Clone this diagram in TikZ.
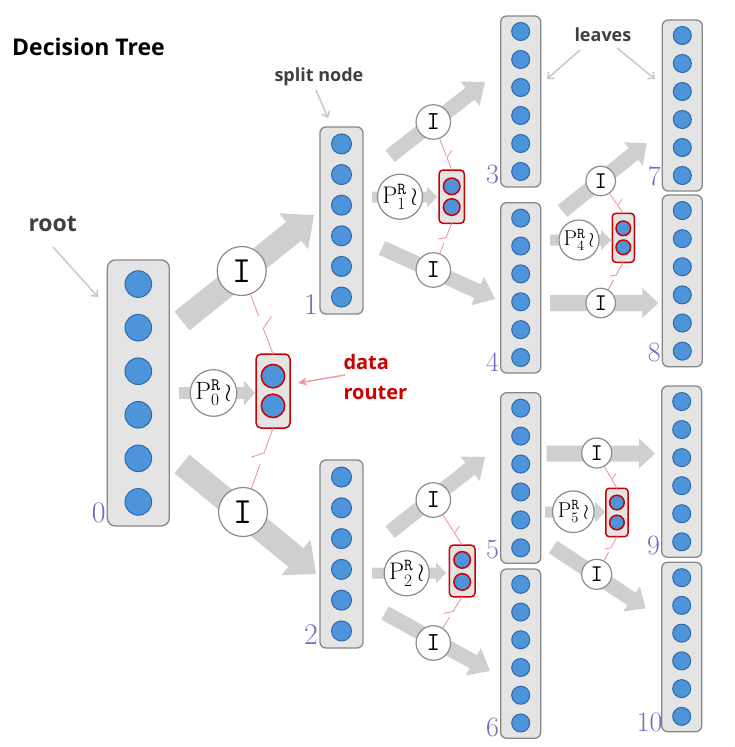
\documentclass[tikz,border=0pt]{standalone}
\usepackage{fontspec}
\newfontfamily\labfont{Open Sans}
\usetikzlibrary{calc,arrows.meta}

\definecolor{boxfill}{RGB}{228,228,228}
\definecolor{boxdraw}{RGB}{135,135,135}
\definecolor{cblue}{RGB}{77,148,219}
\definecolor{cbluedark}{RGB}{46,104,166}
\definecolor{rred}{RGB}{204,0,0}
\definecolor{agray}{RGB}{207,207,207}
\definecolor{lgray}{RGB}{200,200,200}
\definecolor{pinkc}{RGB}{242,150,158}
\definecolor{numcol}{RGB}{118,104,196}
\definecolor{txtgray}{RGB}{64,64,64}
\definecolor{circdraw}{RGB}{140,140,140}

\tikzset{
  fbox/.style={rectangle, draw=boxdraw, fill=boxfill, line width=1.3pt, inner sep=0pt, outer sep=0pt},
  fcirc/.style={circle, draw=cbluedark, fill=cblue, line width=1pt, inner sep=0pt},
  rbox/.style={rectangle, draw=rred, fill=boxfill, line width=1.5pt, inner sep=0pt, outer sep=0pt},
  rcirc/.style={circle, draw=rred, fill=cblue, line width=1.5pt, inner sep=0pt},
  icirc/.style={circle, draw=circdraw, fill=white, line width=1.2pt, inner sep=0pt},
  numlbl/.style={text=numcol, inner sep=0pt, anchor=base east},
  pinkline/.style={draw=pinkc, line width=0.9pt},
  annarrow/.style={draw=lgray, line width=1.5pt, -{Straight Barb[length=5pt,width=9pt]}},
  pinkarrow/.style={draw=pinkc, line width=1.4pt, -{Stealth[length=9pt,width=8pt]}},
  lbltext/.style={inner sep=0pt, anchor=base west}
}

% feature box: name, cx, top, bottom, width, radius, corner
\newcommand{\featbox}[7]{%
  \pgfmathsetmacro{\fbh}{#4-#3}%
  \pgfmathsetmacro{\fbcy}{(#3+#4)/2}%
  \pgfmathsetmacro{\fbd}{2*#6}%
  \node[fbox, rounded corners=#7pt, minimum width=#5pt, minimum height=\fbh pt] (#1) at (#2,\fbcy) {};
  \foreach \k in {1,...,6}{%
    \pgfmathsetmacro{\fcy}{#3+0.0906*\fbh+(\k-1)*0.16375*\fbh}%
    \node[fcirc, minimum size=\fbd pt] (#1c\k) at (#2,\fcy) {};
  }%
}
% router: name, cx, cy, w, h, r, dy, corner
\newcommand{\routerbox}[8]{%
  \pgfmathsetmacro{\rd}{2*#6}%
  \node[rbox, rounded corners=#8pt, minimum width=#4pt, minimum height=#5pt] (#1) at (#2,#3) {};
  \node[rcirc, minimum size=\rd pt] (#1c1) at (#2,#3-#7) {};
  \node[rcirc, minimum size=\rd pt] (#1c2) at (#2,#3+#7) {};
}
% fat arrow: tail, tip, half shaft, half head, head length
\newcommand{\fatarrow}[5]{%
  \coordinate (fatb) at ($(#2)!#5!(#1)$);
  \fill[agray] ($(#1)!#3!90:(#2)$) -- ($(fatb)!#3!90:(#2)$) -- ($(fatb)!#4!90:(#2)$)
    -- (#2) -- ($(fatb)!#4!-90:(#2)$) -- ($(fatb)!#3!-90:(#2)$) -- ($(#1)!#3!-90:(#2)$) -- cycle;
}
% broken pink link from node above to router
\newcommand{\brkup}[5]{%
  \path (#1) -- (#2.north) coordinate[pos=#3] (#1u1) coordinate[pos=#4] (#1u2);
  \draw[pinkline] (#1) -- (#1u1);
  \draw[pinkline] ($(#1u2)+#5$) -- (#1u2) -- (#2.north);
}
% broken pink link from router to node below
\newcommand{\brkdn}[5]{%
  \path (#1.south) -- (#2) coordinate[pos=#3] (#1d1) coordinate[pos=#4] (#1d2);
  \draw[pinkline] (#1.south) -- (#1d1) -- ++#5;
  \draw[pinkline] (#1d2) -- (#2);
}

\begin{document}
\begin{tikzpicture}[x=1pt,y=-1pt]
\fill[white] (0,0) rectangle (734,747);
\useasboundingbox (0,0) rectangle (734,747);

% ---------- arrow end points ----------
\coordinate (t01) at (182,321);   \coordinate (h01) at (314,215);
\coordinate (t02) at (182,464);   \coordinate (h02) at (316,574);
\coordinate (t13) at (390,156);   \coordinate (h13) at (485,82);
\coordinate (t14) at (382,248);   \coordinate (h14) at (495,299);
\coordinate (t25) at (390,532);   \coordinate (h25) at (485,457);
\coordinate (t26) at (385,613);   \coordinate (h26) at (490,671);
\coordinate (t47) at (562.5,211); \coordinate (h47) at (646.7,143.3);
\coordinate (t48) at (550,303);   \coordinate (h48) at (658.3,303);
\coordinate (t59) at (546.7,453.5); \coordinate (h59) at (655,453.5);
\coordinate (t510) at (553,547);  \coordinate (h510) at (645.7,608.3);
\coordinate (tp0) at (179,393);   \coordinate (hp0) at (255,393);
\coordinate (tp1) at (372,197);   \coordinate (hp1) at (437,197);
\coordinate (tp2) at (372,573);   \coordinate (hp2) at (446,573);
\coordinate (tp4) at (550,240);   \coordinate (hp4) at (611,240);
\coordinate (tp5) at (545,512);   \coordinate (hp5) at (605,512);

% ---------- fat arrows ----------
\fatarrow{t01}{h01}{12pt}{23pt}{26pt}
\fatarrow{t02}{h02}{12pt}{23pt}{26pt}
\fatarrow{t13}{h13}{7.5pt}{15.5pt}{19pt}
\fatarrow{t14}{h14}{7.5pt}{15.5pt}{19pt}
\fatarrow{t25}{h25}{7.5pt}{15.5pt}{19pt}
\fatarrow{t26}{h26}{7.5pt}{15.5pt}{19pt}
\fatarrow{t47}{h47}{7.5pt}{15pt}{17pt}
\fatarrow{t48}{h48}{8pt}{15pt}{16pt}
\fatarrow{t59}{h59}{8pt}{15pt}{16pt}
\fatarrow{t510}{h510}{7.5pt}{15pt}{17pt}
\fatarrow{tp0}{hp0}{6pt}{12.5pt}{11pt}
\fatarrow{tp1}{hp1}{5.5pt}{10.5pt}{10pt}
\fatarrow{tp2}{hp2}{5.5pt}{10.5pt}{10pt}
\fatarrow{tp4}{hp4}{5.5pt}{10pt}{10pt}
\fatarrow{tp5}{hp5}{5.5pt}{10pt}{10pt}

% ---------- feature boxes ----------
\featbox{b0}{138.3}{260}{526}{62}{13.3}{8}
\featbox{b1}{341.5}{127}{314}{43}{10}{6}
\featbox{b2}{341.5}{460}{648}{43}{10}{6}
\featbox{b3}{520.7}{16}{187}{40}{9}{6}
\featbox{b4}{520.7}{202.7}{373}{40}{9}{6}
\featbox{b5}{520.7}{392.7}{563.3}{40}{9}{6}
\featbox{b6}{520.7}{569}{738.3}{40}{9}{6}
\featbox{b7}{682.3}{20}{191}{40}{9}{6}
\featbox{b8}{682.3}{195}{366.7}{40}{9}{6}
\featbox{b9}{681.7}{386}{557.3}{40}{9}{6}
\featbox{b10}{681.7}{562.3}{731.7}{40}{9}{6}

% ---------- I circles ----------
\node[icirc, minimum size=49pt, font=\fontsize{37}{37}\selectfont\ttfamily] (I0a) at (241.7,271) {I};
\node[icirc, minimum size=49pt, font=\fontsize{37}{37}\selectfont\ttfamily] (I0b) at (243,512) {I};
\node[icirc, minimum size=34.5pt, font=\fontsize{26}{26}\selectfont\ttfamily] (I1a) at (433.3,122) {I};
\node[icirc, minimum size=34.5pt, font=\fontsize{26}{26}\selectfont\ttfamily] (I1b) at (433.3,270) {I};
\node[icirc, minimum size=34.5pt, font=\fontsize{26}{26}\selectfont\ttfamily] (I2a) at (433.3,500) {I};
\node[icirc, minimum size=34.5pt, font=\fontsize{26}{26}\selectfont\ttfamily] (I2b) at (433.3,643) {I};
\node[icirc, minimum size=29.5pt, font=\fontsize{24}{24}\selectfont\ttfamily] (I4a) at (600.7,181) {I};
\node[icirc, minimum size=29.5pt, font=\fontsize{24}{24}\selectfont\ttfamily] (I4b) at (600.7,303) {I};
\node[icirc, minimum size=30pt, font=\fontsize{24}{24}\selectfont\ttfamily] (I5a) at (596.7,453) {I};
\node[icirc, minimum size=30pt, font=\fontsize{24}{24}\selectfont\ttfamily] (I5b) at (596.7,574.3) {I};

% ---------- P circles ----------
\node[icirc, minimum size=46.6pt, font=\fontsize{25}{25}\selectfont] (P0) at (213.5,393) {$\mathrm{P}^{\mathtt{R}}_{0}\,\wr$};
\node[icirc, minimum size=45pt, font=\fontsize{24}{24}\selectfont] (P1) at (400,196.7) {$\mathrm{P}^{\mathtt{R}}_{1}\,\wr$};
\node[icirc, minimum size=45pt, font=\fontsize{24}{24}\selectfont] (P2) at (406.7,573.3) {$\mathrm{P}^{\mathtt{R}}_{2}\,\wr$};
\node[icirc, minimum size=40pt, font=\fontsize{21.5}{21.5}\selectfont] (P4) at (579,240) {$\mathrm{P}^{\mathtt{R}}_{4}\,\wr$};
\node[icirc, minimum size=41.6pt, font=\fontsize{21.5}{21.5}\selectfont] (P5) at (573.3,511.7) {$\mathrm{P}^{\mathtt{R}}_{5}\,\wr$};

% ---------- routers ----------
\routerbox{R0}{273}{391}{34}{74}{11.7}{14.85}{5}
\routerbox{R1}{451.7}{196.7}{25.3}{53.3}{8.3}{10.35}{4}
\routerbox{R2}{462.2}{570.9}{25.7}{51.7}{8.3}{11}{4}
\routerbox{R4}{623.3}{237.8}{22}{49}{7.3}{9.5}{3.5}
\routerbox{R5}{616.9}{512.5}{22.3}{48.4}{7.3}{10}{3.5}

% ---------- pink broken links ----------
\brkup{I0a}{R0}{0.36}{0.57}{(8,-12)}
\brkdn{R0}{I0b}{0.41}{0.59}{(-13,4.5)}
\brkup{I1a}{R1}{0.55}{0.60}{(5,-7)}
\brkdn{R1}{I1b}{0.47}{0.65}{(-8,1.5)}
\brkup{I2a}{R2}{0.55}{0.60}{(5,-7)}
\brkdn{R2}{I2b}{0.47}{0.65}{(-9,2)}
\brkup{I4a}{R4}{0.55}{0.60}{(4,-6)}
\brkdn{R4}{I4b}{0.47}{0.65}{(-6,1)}
\brkup{I5a}{R5}{0.55}{0.60}{(4,-6)}
\brkdn{R5}{I5b}{0.47}{0.65}{(-6,1)}

% ---------- node numbers ----------
\node[numlbl, font=\fontsize{30}{30}\selectfont] (n0) at ($(b0.south west)+(-1.5,-4)$) {0};
\node[numlbl, font=\fontsize{30}{30}\selectfont] (n1) at ($(b1.south west)+(-2,0)$) {1};
\node[numlbl, font=\fontsize{30}{30}\selectfont] (n2) at ($(b2.south west)+(-2,-4)$) {2};
\node[numlbl, font=\fontsize{28}{28}\selectfont] (n3) at ($(b3.south west)+(-1.5,-4)$) {3};
\node[numlbl, font=\fontsize{28}{28}\selectfont] (n4) at ($(b4.south west)+(-1.5,-2)$) {4};
\node[numlbl, font=\fontsize{28}{28}\selectfont] (n5) at ($(b5.south west)+(-1.5,-5)$) {5};
\node[numlbl, font=\fontsize{28}{28}\selectfont] (n6) at ($(b6.south west)+(-1.5,-2)$) {6};
\node[numlbl, font=\fontsize{28}{28}\selectfont] (n7) at ($(b7.south west)+(-1.5,-6)$) {7};
\node[numlbl, font=\fontsize{28}{28}\selectfont] (n8) at ($(b8.south west)+(-1.5,-5)$) {8};
\node[numlbl, font=\fontsize{28}{28}\selectfont] (n9) at ($(b9.south west)+(-1.5,-3)$) {9};
\node[numlbl, font=\fontsize{28}{28}\selectfont] (n10) at ($(b10.south west)+(1,0)$) {10};

% ---------- texts ----------
\node[lbltext, font=\labfont\bfseries\fontsize{23}{23}\selectfont] (title) at (12,55) {Decision Tree};
\node[lbltext, text=txtgray, font=\labfont\bfseries\fontsize{23}{23}\selectfont] (rootlbl) at (28.3,231.7) {root};
\node[lbltext, text=txtgray, font=\labfont\bfseries\fontsize{18}{18}\selectfont] (splitlbl) at (274.3,81.7) {split node};
\node[lbltext, text=txtgray, font=\labfont\bfseries\fontsize{18}{18}\selectfont] (leaveslbl) at (574.3,41.7) {leaves};
\node[lbltext, text=rred, font=\labfont\bfseries\fontsize{20}{20}\selectfont] (datalbl) at (343.3,369.3) {data};
\node[lbltext, text=rred, font=\labfont\bfseries\fontsize{20}{20}\selectfont] (routerlbl) at (343.3,399.3) {router};

% ---------- annotation arrows ----------
\coordinate (ra1) at (53,247);  \coordinate (ra2) at (98,297);
\coordinate (sa1) at (316,90);  \coordinate (sa2) at (328,118);
\coordinate (la1) at (580,50);  \coordinate (la2) at (547,79);
\coordinate (lb1) at (617,48);  \coordinate (lb2) at (655,79);
\coordinate (da1) at (345,375); \coordinate (da2) at (298,383);
\draw[annarrow] (ra1) -- (ra2);
\draw[annarrow] (sa1) -- (sa2);
\draw[annarrow] (la1) -- (la2);
\draw[annarrow] (lb1) -- (lb2);
\draw[pinkarrow] (da1) -- (da2);
\end{tikzpicture}
\end{document}
